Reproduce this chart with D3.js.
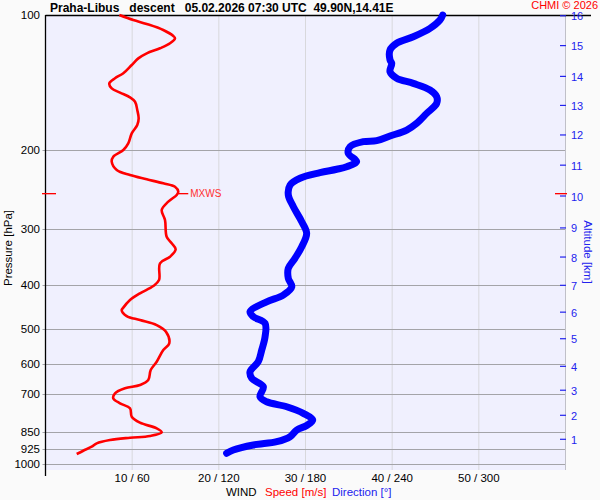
<!DOCTYPE html>
<html><head><meta charset="utf-8">
<script src="https://cdn.jsdelivr.net/npm/d3@7"></script>
<style>html,body{margin:0;padding:0;background:#fafafa;}svg{display:block;font-family:"Liberation Sans",Arial,sans-serif;}</style>
</head><body>
<svg id="c" width="600" height="500"></svg>
<script>
// ---- data ----
const titleText = "Praha-Libus   descent   05.02.2026 07:30 UTC  49.90N,14.41E";
const pressureTicks = [100, 200, 300, 400, 500, 600, 700, 850, 925, 1000];
const windTicks = [10, 20, 30, 40, 50];
const dirTicks = [60, 120, 180, 240, 300];
const altKm = [1,2,3,4,5,6,7,8,9,10,11,12,13,14,15,16];
const altP  = [881,779,685,606,526,459,400,346,298,253,216,185,159,137,117,100.4];
const mxwsP = 250;
// speed profile
const speedP = [100,102.6,104.7,108.0,111.4,112.7,115.6,118.6,121.7,124.9,129.2,134.8,138.3,142.0,145.7,148.9,152.5,156.0,162.8,169.9,175.8,183.5,193.1,199.8,206.8,212.2,221.4,227.2,232.2,237.1,241.3,247.5,251.7,260.5,271.8,286.1,311.7,322.4,332.5,345.4,357.3,389.4,401.5,416.8,431.4,450.2,454.1,468.3,478.0,490.4,507.5,538.6,557.4,591.8,617.5,650.0,666.9,678.3,695.9,714.0,732.6,751.6,784.7,809.2,832.8,850.1,866.4,874.0,884.4,899.4,915.2,934.2,950.1];
const speedV = [8.52,10.13,11.68,13.59,14.75,14.94,14.37,13.21,11.68,10.71,9.95,8.98,8.02,7.36,7.64,8.60,9.75,10.33,10.59,10.75,10.59,9.95,9.55,8.98,7.82,7.64,8.22,9.75,11.68,13.59,14.94,15.32,15.14,14.17,13.41,13.79,13.98,14.56,15.02,14.37,13.21,13.10,12.44,10.90,9.75,8.91,8.79,9.37,10.90,12.83,13.90,14.28,13.59,12.83,12.14,11.86,10.90,9.17,8.02,7.82,8.60,9.75,9.95,10.90,12.83,13.41,12.06,9.75,7.44,5.91,5.33,4.36,3.60];
// direction profile
const dirP = [100,102.6,107.1,111.8,115.6,119.7,125.9,128.1,133.7,138.3,142.0,146.9,152.0,157.3,165.6,174.2,180.4,186.0,190.5,191.5,196.5,203.3,212.2,217.7,220.6,224.5,231.0,239.2,251.7,267.3,288.6,306.4,328.1,348.3,366.6,385.9,402.9,420.5,435.2,458.0,469.9,486.1,520.7,557.4,591.8,622.9,644.4,672.7,708.1,726.6,745.5,771.2,798.0,820.8,840.2,869.5,892.0,907.3,930.9,946.7];
const dirV = [275.0,273.1,266.2,254.6,243.1,238.5,238.5,239.7,238.5,243.1,254.6,266.2,270.8,270.8,263.9,257.0,250.1,238.5,229.3,220.0,210.8,209.6,215.4,208.5,201.6,190.0,176.2,169.3,168.1,171.6,177.4,180.8,177.4,172.7,168.1,168.1,170.5,164.6,153.1,141.6,143.9,152.0,152.0,149.7,147.3,141.6,142.8,150.8,148.5,153.1,167.0,178.5,185.0,180.8,173.9,169.3,160.1,143.9,130.0,125.4];

// ---- drawing ----
const svg = d3.select("#c");
const L = 45.5, R = 565.5, T = 15, B = 464, Bext = 470;
const x = d3.scaleLinear().domain([0, 60]).range([L, R]);
const xd = d3.scaleLinear().domain([0, 360]).range([L, R]);
const y = d3.scaleLog().domain([100, 1000]).range([T, B]);

svg.append("rect").attr("x", 0).attr("y", 0).attr("width", 600).attr("height", 500).attr("fill", "#fafafa");
svg.append("rect").attr("x", L).attr("y", T).attr("width", R - L).attr("height", Bext - T).attr("fill", "#f0f0fe");

// vertical grid
svg.append("g").selectAll("line").data(windTicks).join("line")
  .attr("x1", d => x(d)).attr("x2", d => x(d)).attr("y1", T).attr("y2", Bext)
  .attr("stroke", "#d8d8dc").attr("stroke-width", 1);
// horizontal grid
svg.append("g").selectAll("line").data(pressureTicks.filter(p => p > 100)).join("line")
  .attr("x1", L - 3).attr("x2", R).attr("y1", d => Math.round(y(d)) + 0.5).attr("y2", d => Math.round(y(d)) + 0.5)
  .attr("stroke", "#a4a4a8").attr("stroke-width", 1.2);
// right border
svg.append("line").attr("x1", R).attr("x2", R).attr("y1", T).attr("y2", Bext).attr("stroke", "#c0c0c8");
// left axis
svg.append("line").attr("x1", L).attr("x2", L).attr("y1", T).attr("y2", Bext + 6).attr("stroke", "#000").attr("stroke-width", 1.3);
// top line
svg.append("line").attr("x1", L).attr("x2", 591).attr("y1", T + 0.5).attr("y2", T + 0.5).attr("stroke", "#000").attr("stroke-width", 1.3);

// pressure labels
svg.append("g").selectAll("text").data(pressureTicks).join("text")
  .attr("x", 40).attr("y", d => y(d) + 4).attr("text-anchor", "end")
  .attr("font-size", 11.5).attr("fill", "#000").text(d => d);
// wind labels
svg.append("g").selectAll("text").data(windTicks).join("text")
  .attr("x", d => x(d)).attr("y", 482).attr("text-anchor", "middle")
  .attr("font-size", 11.5).attr("fill", "#000").text((d, i) => d + " / " + dirTicks[i]);

// altitude axis
const ag = svg.append("g");
ag.selectAll("line").data(altKm).join("line")
  .attr("x1", 560).attr("x2", 566).attr("y1", (d, i) => y(altP[i])).attr("y2", (d, i) => y(altP[i]))
  .attr("stroke", "#2222ee").attr("stroke-width", 1.2);
ag.selectAll("text").data(altKm).join("text")
  .attr("x", 571).attr("y", (d, i) => y(altP[i]) + 4.5)
  .attr("font-size", 11).attr("fill", "#2222ee").text(d => d);

// axis titles
svg.append("text").attr("transform", "translate(12,248) rotate(-90)").attr("text-anchor", "middle")
  .attr("font-size", 11.5).attr("fill", "#000").text("Pressure [hPa]");
svg.append("text").attr("transform", "translate(584,252) rotate(90)").attr("text-anchor", "middle")
  .attr("font-size", 11.5).attr("fill", "#2222ee").text("Altitude [km]");
svg.append("text").attr("x", 226).attr("y", 496).attr("font-size", 11.5).attr("fill", "#000").text("WIND");
svg.append("text").attr("x", 265).attr("y", 496).attr("font-size", 11.5).attr("fill", "#ff0000").text("Speed [m/s]");
svg.append("text").attr("x", 332).attr("y", 496).attr("font-size", 11.5).attr("fill", "#2222ee").text("Direction [°]");

// title
svg.append("text").attr("x", 50).attr("y", 11.5).attr("font-size", 12).attr("font-weight", "bold")
  .attr("fill", "#000").style("white-space", "pre").attr("xml:space", "preserve").text(titleText);
svg.append("text").attr("x", 598).attr("y", 8.5).attr("text-anchor", "end").attr("font-size", 11)
  .attr("fill", "#ff0000").text("CHMI \u00A9 2026");

// direction curve
const dirData = dirP.map((p, i) => [dirV[i], p]);
svg.append("path").datum(dirData)
  .attr("d", d3.line().x(d => xd(d[0])).y(d => y(d[1])).curve(d3.curveCatmullRom))
  .attr("fill", "none").attr("stroke", "#0000ff").attr("stroke-width", 7)
  .attr("stroke-linecap", "round").attr("stroke-linejoin", "round");

// speed curve
const spData = speedP.map((p, i) => [speedV[i], p]);
svg.append("path").datum(spData)
  .attr("d", d3.line().x(d => x(d[0])).y(d => y(d[1])).curve(d3.curveCatmullRom))
  .attr("fill", "none").attr("stroke", "#ff0000").attr("stroke-width", 2.6)
  .attr("stroke-linejoin", "round");

// MXWS marker
const mxS = d3.max(speedV);
const my = y(mxwsP);
svg.append("line").attr("x1", x(mxS)).attr("x2", x(mxS) + 10).attr("y1", my).attr("y2", my).attr("stroke", "#ff0000").attr("stroke-width", 1.3);
svg.append("text").attr("x", x(mxS) + 12).attr("y", my + 3.5).attr("font-size", 10).attr("fill", "#ff3030").text("MXWS");
svg.append("line").attr("x1", 42).attr("x2", 56).attr("y1", my).attr("y2", my).attr("stroke", "#ff0000").attr("stroke-width", 1.3);
svg.append("line").attr("x1", 555).attr("x2", 567).attr("y1", my).attr("y2", my).attr("stroke", "#ff0000").attr("stroke-width", 1.3);
</script>
</body></html>
